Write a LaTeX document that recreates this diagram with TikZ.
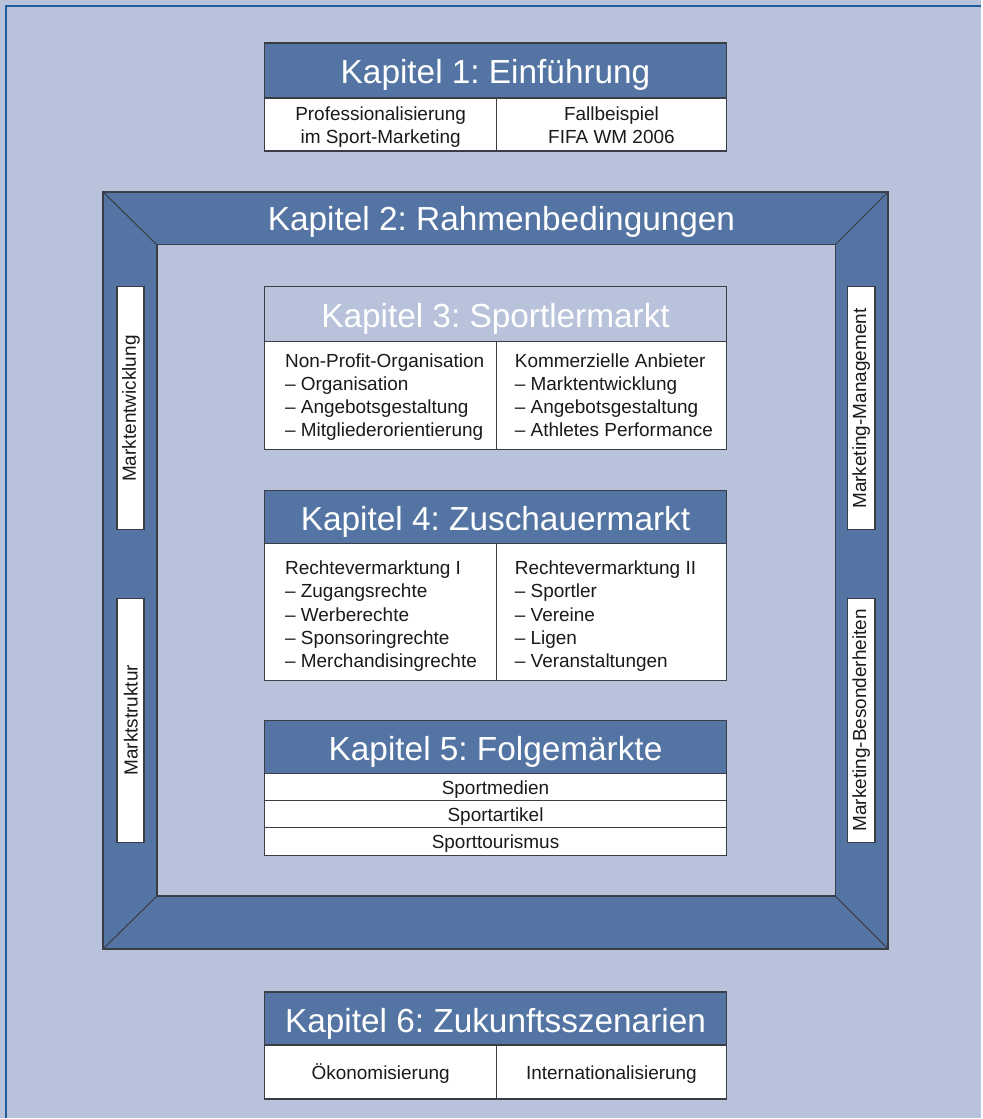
\documentclass[tikz,border=0pt]{standalone}
\usepackage{fontspec}
\setmainfont{Liberation Sans}
\frenchspacing
\definecolor{paper}{HTML}{B8C3DB}
\definecolor{navy}{HTML}{5475A3}
\definecolor{rim}{HTML}{1F5C9A}
\definecolor{edge}{HTML}{3A3D46}
\definecolor{ink}{HTML}{1A1A1A}
\tikzset{head/.style={draw=edge, fill=navy, line width=.8pt}, cell/.style={draw=edge, fill=white, line width=.8pt}, htxt/.style={text=white, font=\fontsize{19}{23}\selectfont, inner sep=0pt, anchor=base}, btxt/.style={text=ink, font=\fontsize{10.8}{13.2}\selectfont, align=left, inner sep=0pt, anchor=base west}, ctxt/.style={text=ink, font=\fontsize{10.8}{13.2}\selectfont, align=center, inner sep=0pt, anchor=base}, side/.style={text=ink, font=\fontsize{10.8}{13.2}\selectfont, inner sep=0pt, rotate=90}}

\begin{document}
\begin{tikzpicture}[x=0.02cm, y=-0.02cm]
\fill[paper] (0,0) rectangle (982,1119);
\draw[rim, line width=1.2pt] (6,1119)--(6,6)--(982,6);
% frame of chapter 2
\fill[navy, even odd rule] (103,192) rectangle (889,950) (157,245) rectangle (836,897);
\draw[edge, line width=.8pt] (103,192) rectangle (889,950) (157,245) rectangle (836,897);
\draw[edge, line width=.6pt] (103,192)--(157,245) (889,192)--(836,245) (103,950)--(157,897) (889,950)--(836,897);
\node[htxt] (k2) at (502,231) {Kapitel 2: Rahmenbedingungen};
\draw[cell] (117,287) rectangle (144,530); \draw[cell] (117,599) rectangle (144,843);
\draw[cell] (848,287) rectangle (876,530); \draw[cell] (848,599) rectangle (876,843);
\node[side] (mentw) at (131,409) {Marktentwicklung}; \node[side] (mstru) at (131,721) {Marktstruktur};
\node[side] (mman) at (862,409) {Marketing-Management}; \node[side] (mbes) at (862,721) {Marketing-Besonderheiten};
% chapter 1 (base = last line)
\draw[head] (265,43) rectangle (727,98); \draw[cell] (265,98) rectangle (727,151); \draw[edge, line width=.8pt] (497,98)--(497,151);
\node[htxt] (k1) at (496,84) {Kapitel 1: Einführung};
\node[ctxt] (k1a) at (381,144) {Professionalisierung\\im Sport-Marketing};
\node[ctxt] (k1b) at (612,144) {Fallbeispiel\\FIFA WM 2006};
% chapter 3
\draw[head, fill=paper] (265,287) rectangle (727,342); \draw[cell] (265,342) rectangle (727,450); \draw[edge, line width=.8pt] (497,342)--(497,450);
\node[htxt] (k3) at (496,328) {Kapitel 3: Sportlermarkt};
\node[btxt] (k3a) at (285,437) {Non-Profit-Organisation\\– Organisation\\– Angebotsgestaltung\\– Mitgliederorientierung};
\node[btxt] (k3b) at (515,437) {Kommerzielle Anbieter\\– Marktentwicklung\\– Angebotsgestaltung\\– Athletes Performance};
% chapter 4
\draw[head] (265,491) rectangle (727,544); \draw[cell] (265,544) rectangle (727,681); \draw[edge, line width=.8pt] (497,544)--(497,681);
\node[htxt] (k4) at (496,531) {Kapitel 4: Zuschauermarkt};
\node[btxt] (k4a) at (285,668) {Rechtevermarktung I\\– Zugangsrechte\\– Werberechte\\– Sponsoringrechte\\– Merchandisingrechte};
\node[btxt] (k4b) at (515,668) {Rechtevermarktung II\\– Sportler\\– Vereine\\– Ligen\\– Veranstaltungen};
% chapter 5
\draw[head] (265,721) rectangle (727,774);
\draw[cell] (265,774) rectangle (727,801); \draw[cell] (265,801) rectangle (727,828); \draw[cell] (265,828) rectangle (727,856);
\node[htxt] (k5) at (496,761) {Kapitel 5: Folgemärkte};
\node[ctxt] (k5a) at (496,795) {Sportmedien}; \node[ctxt] (k5b) at (496,822) {Sportartikel}; \node[ctxt] (k5c) at (496,849) {Sporttourismus};
% chapter 6
\draw[head] (265,993) rectangle (727,1046); \draw[cell] (265,1046) rectangle (727,1100); \draw[edge, line width=.8pt] (497,1046)--(497,1100);
\node[htxt] (k6) at (496,1033) {Kapitel 6: Zukunftsszenarien};
\node[ctxt] (k6a) at (381,1081) {Ökonomisierung}; \node[ctxt] (k6b) at (612,1081) {Internationalisierung};
\end{tikzpicture}
\end{document}
